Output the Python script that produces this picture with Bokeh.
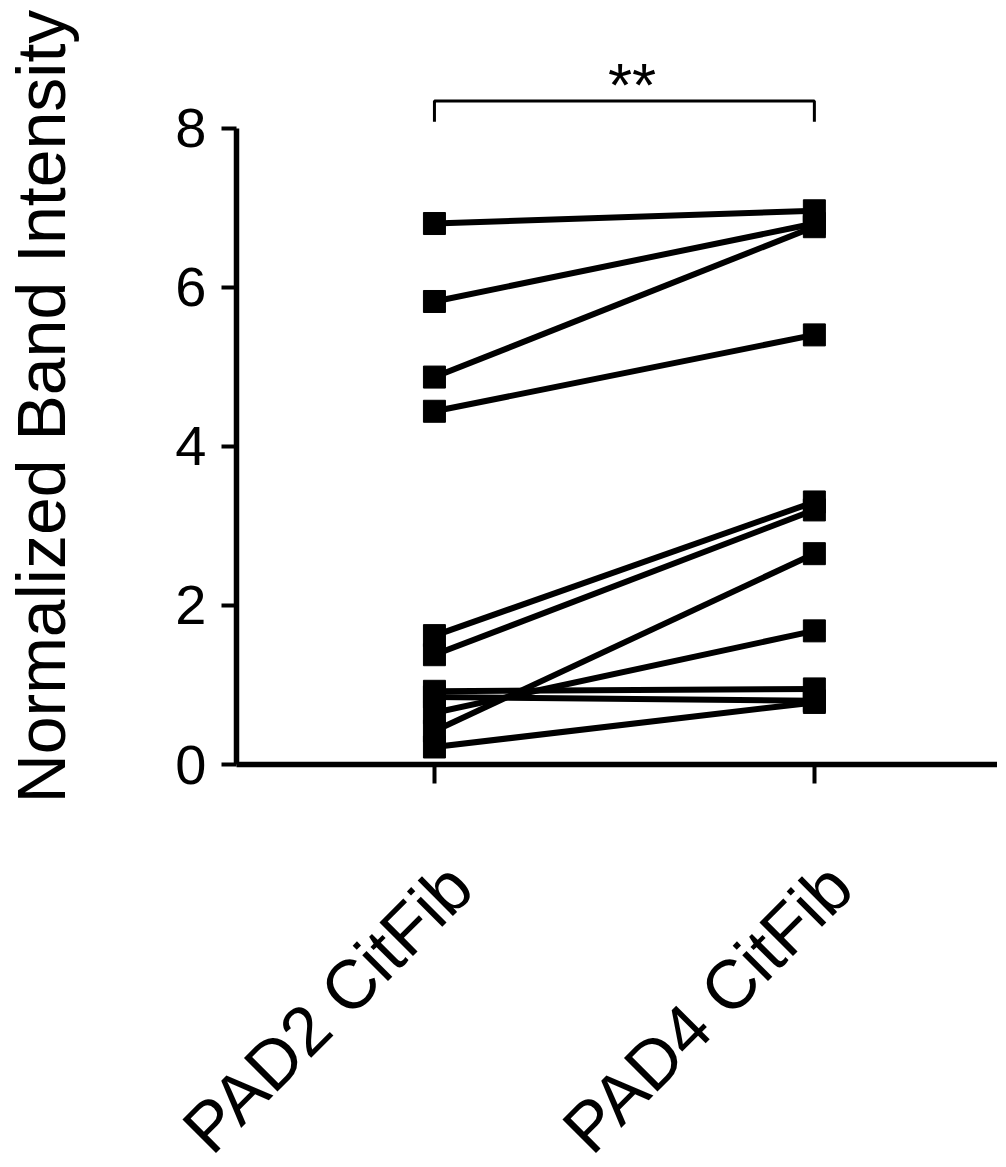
import math
from bokeh.plotting import figure
from bokeh.models import FixedTicker, LinearAxis, Range1d
from bokeh.core.properties import value
from bokeh.embed import file_html
from bokeh.resources import INLINE

# ---- data ----
categories = ["PAD2 CitFib", "PAD4 CitFib"]
pad2_values = [6.80, 5.82, 4.87, 4.44, 1.62, 1.38, 0.92, 0.85, 0.65, 0.42, 0.22]
pad4_values = [6.96, 6.80, 6.76, 5.40, 3.30, 3.20, 0.95, 0.80, 1.68, 2.65, 0.78]
y_ticks = [0, 2, 4, 6, 8]
significance = "**"

FONT = "Liberation Sans"
X0, X1 = 0.479, 2.482
LABEL_SHIFT = 0.068   # horizontal nudge of category labels (data units)

p = figure(frame_width=761, frame_height=716,
           x_range=(X0, X1), y_range=(0, 9.0),
           output_backend="svg", toolbar_location=None,
           min_border_top=48, min_border_right=0, min_border_left=0,
           min_border_bottom=0)
p.outline_line_color = None
p.xgrid.visible = False
p.ygrid.visible = False
p.background_fill_color = "white"
p.border_fill_color = "white"

xpos = list(range(1, len(categories) + 1))

# paired lines
xs = [xpos for _ in pad2_values]
ys = [[a, b] for a, b in zip(pad2_values, pad4_values)]
p.multi_line(xs=xs, ys=ys, line_color="black", line_width=6)

# markers
mx = [xpos[0]] * len(pad2_values) + [xpos[1]] * len(pad4_values)
my = pad2_values + pad4_values
p.scatter(x=mx, y=my, marker="square", size=22, fill_color="black", line_color="black")

# significance bracket
bracket_top = 8.34
bracket_foot = 8.08
p.line(x=[xpos[0], xpos[0], xpos[1], xpos[1]],
       y=[bracket_foot, bracket_top, bracket_top, bracket_foot],
       line_color="black", line_width=3)
p.text(x=[(xpos[0] + xpos[1]) / 2 + 0.02], y=[8.55], text=[significance],
       text_font=value(FONT), text_font_size="62px", text_align="center",
       text_baseline="middle", text_color="black")

# axes
yax = p.yaxis[0]
yax.ticker = FixedTicker(ticks=y_ticks)
yax.bounds = (0, 8)
yax.axis_line_width = 5.5
yax.axis_line_color = "black"
yax.major_tick_line_width = 4
yax.major_tick_out = 15
yax.major_tick_in = 0
yax.minor_tick_out = 0
yax.minor_tick_in = 0
yax.major_label_standoff = 15
yax.major_label_text_font = FONT
yax.major_label_text_font_size = "56px"
yax.major_label_text_color = "black"
yax.axis_label = "Normalized Band Intensity"
yax.axis_label_text_font = FONT
yax.axis_label_text_font_size = "68px"
yax.axis_label_text_font_style = "normal"
yax.axis_label_text_color = "black"
yax.axis_label_standoff = 93

xax = p.xaxis[0]
xax.ticker = FixedTicker(ticks=xpos)
xax.major_label_overrides = {x: "" for x in xpos}
xax.major_label_text_font_size = "1px"
xax.major_label_standoff = 0
xax.axis_line_width = 5.5
xax.axis_line_color = "black"
xax.major_tick_line_width = 4
xax.major_tick_out = 19
xax.major_tick_in = 0
xax.minor_tick_out = 0
xax.minor_tick_in = 0

# category labels on a second (label-only) axis, nudged to sit like the reference
p.extra_x_ranges = {"labels": Range1d(X0 - LABEL_SHIFT, X1 - LABEL_SHIFT)}
lab = LinearAxis(x_range_name="labels", ticker=FixedTicker(ticks=xpos),
                 major_label_overrides={x: c for x, c in zip(xpos, categories)})
lab.axis_line_color = None
lab.major_tick_line_color = None
lab.minor_tick_line_color = None
lab.major_tick_out = 0
lab.major_tick_in = 0
lab.minor_tick_out = 0
lab.minor_tick_in = 0
lab.major_label_orientation = math.pi / 4
lab.major_label_standoff = 92
lab.major_label_text_font = FONT
lab.major_label_text_font_size = "69px"
lab.major_label_text_color = "black"
p.add_layout(lab, "below")

open("out.html", "w").write(file_html(p, INLINE))
